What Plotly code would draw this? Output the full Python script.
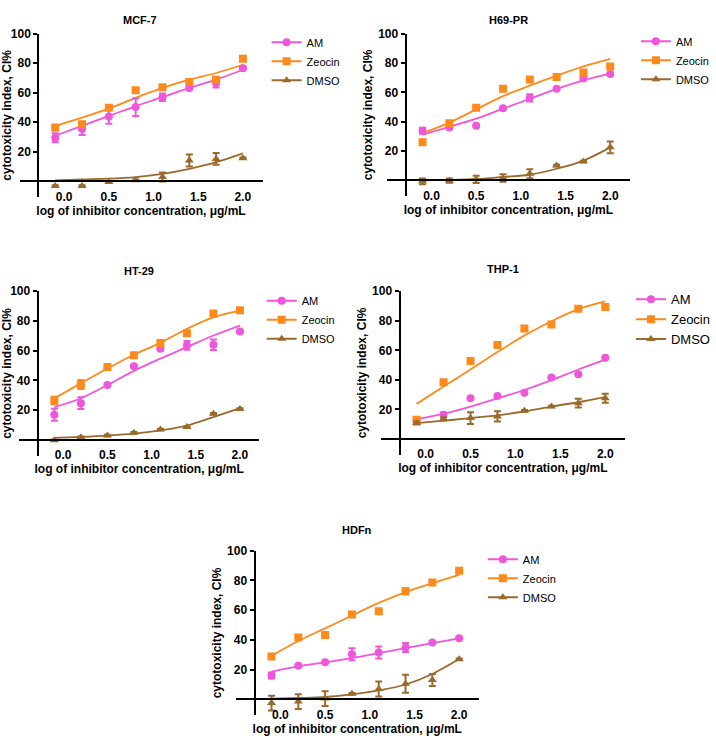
import plotly.graph_objects as go

W, H = 716, 736

# ---------------- data ----------------
x_conc = [-0.1, 0.2, 0.5, 0.8, 1.1, 1.4, 1.7, 2.0]
x_ticks = [0.0, 0.5, 1.0, 1.5, 2.0]
x_ticktext = ['0.0', '0.5', '1.0', '1.5', '2.0']
y_ticks = [20, 40, 60, 80, 100]
series_names = ['AM', 'Zeocin', 'DMSO']
panel_titles = ['MCF-7', 'H69-PR', 'HT-29', 'THP-1', 'HDFn']

# MCF-7
mcf7_am = [29.5, 35.4, 44.0, 50.3, 57.0, 63.3, 66.6, 76.7]
mcf7_am_err = [3, 4, 5, 6, 2.5, 1, 3, 1]
mcf7_am_fit = [30.9, 37.6, 44.3, 51.0, 57.0, 63.3, 68.9, 75.6]
mcf7_zeo = [36.4, 38.7, 49.9, 61.7, 63.8, 67.3, 68.9, 83.0]
mcf7_zeo_err = [0.5, 1.5, 1.0, 0.5, 0.5, 0.5, 1.0, 1.5]
mcf7_zeo_fit = [37.6, 43.2, 49.2, 56.6, 63.3, 68.9, 73.4, 79.0]
mcf7_dmso = [-3.1, -3.1, -0.5, 0.7, 2.9, 14.1, 15.2, 15.6]
mcf7_dmso_err = [0.5, 0.5, 0.5, 0.5, 3, 4, 4, 0.5]
mcf7_dmso_fit = [0.7, 1.3, 1.8, 2.9, 5.1, 8.5, 13.0, 19.0]

# H69-PR
h69_am = [33.8, 36.0, 37.2, 49.1, 56.3, 62.4, 69.4, 72.5]
h69_am_err = [2, 0.5, 0.5, 0.5, 2.5, 0.5, 1, 0.5]
h69_am_fit = [31.1, 36.5, 42.1, 48.9, 55.6, 62.4, 68.2, 72.8]
h69_zeo = [25.9, 39.0, 49.5, 62.4, 68.7, 70.5, 73.6, 77.7]
h69_zeo_err = [0.5, 0.5, 0.5, 0.5, 0.5, 0.5, 0.5, 0.5]
h69_zeo_fit = [32.2, 39.4, 48.4, 57.4, 64.6, 71.4, 77.7, 82.9]
h69_dmso = [-0.7, -0.2, 0.7, 1.6, 4.5, 10.1, 12.8, 22.5]
h69_dmso_err = [2, 1.5, 2.5, 2.5, 3, 0.5, 0.5, 4]
h69_dmso_fit = [0.0, 0.3, 0.9, 2.3, 3.8, 7.9, 13.5, 22.5]

# HT-29
ht29_am = [16.9, 24.7, 36.9, 49.5, 61.3, 63.6, 64.0, 72.9]
ht29_am_err = [4, 4, 0.5, 0.5, 0.5, 3, 3.5, 0.5]
ht29_am_fit = [22.0, 28.0, 36.9, 46.4, 54.7, 62.4, 70.2, 76.9]
ht29_zeo = [26.5, 37.3, 49.1, 56.9, 65.1, 71.8, 85.1, 87.3]
ht29_zeo_err = [2.5, 3, 0.5, 0.5, 0.5, 0.5, 0.5, 0.5]
ht29_zeo_fit = [28.0, 38.0, 48.0, 57.3, 65.3, 74.7, 82.4, 86.9]
ht29_dmso = [-0.2, 1.8, 2.9, 4.7, 6.9, 8.7, 17.5, 20.7]
ht29_dmso_err = [0.5, 0.5, 0.5, 0.5, 0.5, 0.5, 0.5, 0.5]
ht29_dmso_fit = [1.3, 2.0, 2.9, 4.2, 6.4, 9.6, 15.3, 21.3]

# THP-1
thp1_am = [12.6, 16.3, 27.5, 29.1, 31.3, 41.6, 43.8, 55.0]
thp1_am_err = [0.5, 1.5, 0.5, 0.5, 0.5, 0.5, 0.5, 0.5]
thp1_am_fit = [13.4, 17.0, 21.9, 27.5, 33.1, 39.8, 47.0, 53.7]
thp1_zeo = [13.0, 38.3, 52.8, 63.6, 74.7, 77.4, 88.1, 89.3]
thp1_zeo_err = [0.5, 0.5, 0.5, 0.5, 0.5, 0.5, 0.5, 0.5]
thp1_zeo_fit = [23.7, 35.4, 47.0, 58.8, 70.0, 79.7, 87.9, 93.1]
thp1_dmso = [10.7, 13.4, 14.1, 15.2, 19.0, 21.9, 24.2, 27.5]
thp1_dmso_err = [1, 1, 4, 3.5, 0.5, 0.5, 3, 3]
thp1_dmso_fit = [10.7, 12.3, 14.1, 15.9, 18.6, 21.9, 24.8, 28.2]

# HDFn
hdfn_am = [16.0, 22.7, 24.9, 30.4, 31.5, 34.9, 38.2, 41.1]
hdfn_am_err = [2, 0.5, 0.5, 4, 4, 3, 0.5, 0.5]
hdfn_am_fit = [18.7, 22.2, 24.9, 27.8, 31.1, 34.4, 37.8, 41.1]
hdfn_zeo = [28.9, 41.6, 43.3, 57.1, 59.3, 72.7, 78.7, 86.5]
hdfn_zeo_err = [0.5, 0.5, 0.5, 0.5, 0.5, 2, 0.5, 1]
hdfn_zeo_fit = [29.3, 39.3, 47.8, 56.4, 64.9, 72.2, 78.2, 83.8]
hdfn_dmso = [-2.5, -1.5, 0.5, 3.8, 7.0, 10.5, 13.0, 27.0]
hdfn_dmso_err = [5, 5, 5, 0.5, 5, 6, 4, 0.5]
hdfn_dmso_fit = [0.4, 0.9, 1.6, 3.3, 6.0, 10.0, 17.1, 27.1]

panel_data = [
    [(mcf7_am, mcf7_am_err, mcf7_am_fit), (mcf7_zeo, mcf7_zeo_err, mcf7_zeo_fit), (mcf7_dmso, mcf7_dmso_err, mcf7_dmso_fit)],
    [(h69_am, h69_am_err, h69_am_fit), (h69_zeo, h69_zeo_err, h69_zeo_fit), (h69_dmso, h69_dmso_err, h69_dmso_fit)],
    [(ht29_am, ht29_am_err, ht29_am_fit), (ht29_zeo, ht29_zeo_err, ht29_zeo_fit), (ht29_dmso, ht29_dmso_err, ht29_dmso_fit)],
    [(thp1_am, thp1_am_err, thp1_am_fit), (thp1_zeo, thp1_zeo_err, thp1_zeo_fit), (thp1_dmso, thp1_dmso_err, thp1_dmso_fit)],
    [(hdfn_am, hdfn_am_err, hdfn_am_fit), (hdfn_zeo, hdfn_zeo_err, hdfn_zeo_fit), (hdfn_dmso, hdfn_dmso_err, hdfn_dmso_fit)],
]

# ---------------- styles / layout geometry ----------------
colors = ['#F056DA', '#FF8A1C', '#9A6A2C']
symbols = ['circle', 'square', 'triangle-up']
FONT = 'Arial, Liberation Sans, sans-serif'
X_MIN, X_MAX, Y_AXIS_AT = -0.5, 2.22, -0.29
Y_MIN, Y_MAX = -10.7, 100

# pixel geometry per panel: pixel of x=0, px per x unit, pixel of y=100, pixel of y=0,
# title pixel pos, legend (left px, top px, font size)
geom = [
    dict(x0=65, xs=90.5, y100=27, y0=176, title=(142, 13), leg=(270, 21, 11)),
    dict(x0=437, xs=90.5, y100=27, y0=175, title=(515, 13), leg=(644, 20, 11)),
    dict(x0=64, xs=89.5, y100=287, y0=437, title=(141, 267), leg=(265, 282, 11)),
    dict(x0=431, xs=91, y100=287, y0=436, title=(509, 265), leg=(639, 280, 13)),
    dict(x0=284, xs=90.5, y100=549, y0=699, title=(362, 528), leg=(489, 543, 11)),
]


def px(v):
    return v / W


def py(v):
    return 1 - v / H


fig = go.Figure()
layout = dict(width=W, height=H, margin=dict(l=0, r=0, t=0, b=0),
              paper_bgcolor='white', plot_bgcolor='white', showlegend=True,
              font=dict(family=FONT, color='black'), annotations=[])

for i, (g, data, title) in enumerate(zip(geom, panel_data, panel_titles)):
    k = '' if i == 0 else str(i + 1)
    ysc = (g['y0'] - g['y100']) / 100.0
    xl = g['x0'] + X_MIN * g['xs']
    xr = g['x0'] + X_MAX * g['xs']
    yt = g['y100']
    yb = g['y0'] - Y_MIN * ysc
    yax_px = g['x0'] + Y_AXIS_AT * g['xs']
    leg_name = 'legend' + k

    layout['xaxis' + k] = dict(
        domain=[px(xl), px(xr)], range=[X_MIN, X_MAX], anchor='free',
        position=py(g['y0']), showline=True, linecolor='black', linewidth=2,
        showgrid=False, zeroline=False, tickvals=x_ticks, ticktext=x_ticktext,
        ticks='outside', ticklen=4, tickcolor='rgba(0,0,0,0)',
        tickfont=dict(size=12, family=FONT, weight='bold'),
        title=dict(text='log of inhibitor concentration, μg/mL', standoff=0,
                   font=dict(size=12, family=FONT, weight='bold')))
    layout['yaxis' + k] = dict(
        domain=[py(yb), py(yt)], range=[Y_MIN, Y_MAX], anchor='free',
        position=px(yax_px), showline=True, linecolor='black', linewidth=2,
        showgrid=False, zeroline=False, tickvals=y_ticks,
        ticks='outside', ticklen=4, tickwidth=2, tickcolor='black',
        tickfont=dict(size=12, family=FONT, weight='bold'),
        title=dict(text='cytotoxicity index, CI%', standoff=2,
                   font=dict(size=12, family=FONT, weight='bold')))
    lx, ly, lfs = g['leg']
    layout[leg_name] = dict(x=px(lx), y=py(ly), xanchor='left', yanchor='top',
                            bgcolor='rgba(0,0,0,0)', tracegroupgap=0,
                            font=dict(size=lfs, family=FONT, color='black'))
    layout['annotations'].append(dict(
        text=title, x=px(g['title'][0]), y=py(g['title'][1]), xref='paper', yref='paper',
        xanchor='center', yanchor='middle', showarrow=False,
        font=dict(size=11, family=FONT, weight='bold', color='black')))

    xa, ya = 'x' + k, 'y' + k
    # fitted curves
    for (vals, errs, fit), c in zip(data, colors):
        fig.add_trace(go.Scatter(x=x_conc, y=fit, mode='lines', line=dict(color=c, width=1.8, shape='spline'),
                                 xaxis=xa, yaxis=ya, showlegend=False, hoverinfo='skip'))
    # data points with error bars
    for (vals, errs, fit), c, s in zip(data, colors, symbols):
        fig.add_trace(go.Scatter(x=x_conc, y=vals, mode='markers',
                                 marker=dict(color=c, symbol=s, size=8, line=dict(width=0)),
                                 error_y=dict(type='data', array=errs, visible=True, color=c,
                                              thickness=2, width=3.5),
                                 xaxis=xa, yaxis=ya, showlegend=False))
    # legend entries
    for name, c, s in zip(series_names, colors, symbols):
        fig.add_trace(go.Scatter(x=[None], y=[None], mode='lines+markers', name=name,
                                 line=dict(color=c, width=2),
                                 marker=dict(color=c, symbol=s, size=8),
                                 xaxis=xa, yaxis=ya, legend=leg_name, showlegend=True))

fig.update_layout(**layout)
fig.write_html('out.html', config={'displayModeBar': False},
               post_script="document.body.style.margin='0';document.body.style.overflow='hidden';")
